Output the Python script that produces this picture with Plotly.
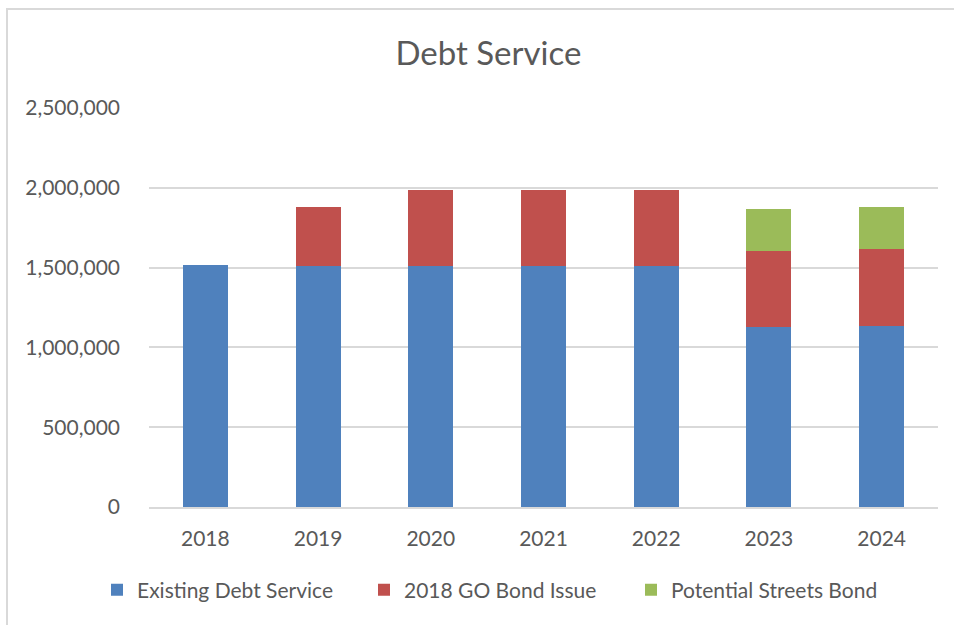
import plotly.graph_objects as go

years = ["2018", "2019", "2020", "2021", "2022", "2023", "2024"]
existing = [1515000, 1509000, 1512000, 1512000, 1509000, 1128000, 1134000]
go_bond = [0, 370000, 477000, 477000, 476000, 478000, 483000]
streets = [0, 0, 0, 0, 0, 263000, 264000]

names = ["Existing Debt Service", "2018 GO Bond Issue", "Potential Streets Bond"]
colors = ["#4f81bd", "#c0504d", "#9bbb59"]

FONT = "Lato, 'Open Sans', sans-serif"
TXT = "#595959"

fig = go.Figure()
for name, vals, col in zip(names, [existing, go_bond, streets], colors):
    fig.add_trace(go.Bar(x=years, y=vals, name=name, marker=dict(color=col, line=dict(width=0))))

fig.update_layout(
    barmode="stack",
    bargap=0.6,
    width=954, height=625,
    margin=dict(l=149, r=16, t=108, b=118),
    paper_bgcolor="white", plot_bgcolor="white",
    font=dict(family=FONT, color=TXT, size=21),
    title=dict(text="Debt Service", x=0.512, xref="container", xanchor="center",
               y=1 - 53 / 625, yref="container", yanchor="middle",
               font=dict(size=33, color=TXT, family=FONT)),
    xaxis=dict(showgrid=False, showline=True, linecolor="#d9d9d9", linewidth=1.5,
               ticks="", tickfont=dict(size=21, color=TXT), ticklabelstandoff=12),
    yaxis=dict(range=[0, 2500000], dtick=500000, tickformat=",d", showgrid=True,
               gridcolor="#d9d9d9", gridwidth=1.5, zeroline=False, showline=False,
               ticks="", tickfont=dict(size=21, color=TXT), ticklabelstandoff=28),
    legend=dict(orientation="h", x=(97 - 149) / 789, xanchor="left",
                y=(507 - 590) / 399, yanchor="middle",
                entrywidth=222, entrywidthmode="pixels", itemwidth=30,
                font=dict(size=21, color=TXT), traceorder="normal"),
    shapes=[dict(type="rect", xref="paper", yref="paper",
                 x0=(7 - 149) / 789, x1=1.2, y0=-0.6, y1=(507 - 9) / 399,
                 line=dict(color="#d9d9d9", width=2), layer="below")],
)

fig.write_html("out.html")
